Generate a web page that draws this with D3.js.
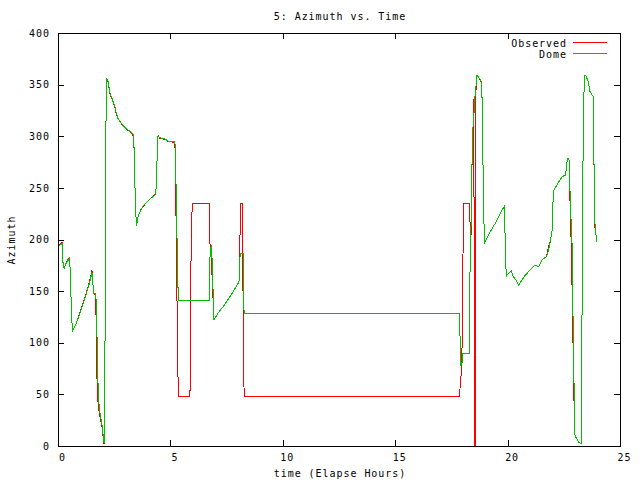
<!DOCTYPE html>
<html>
<head>
<meta charset="utf-8">
<script src="https://cdn.jsdelivr.net/npm/d3@7"></script>
<style>
  html, body { margin: 0; padding: 0; background: #fff; }
  text { font-family: "DejaVu Sans Mono", "Liberation Mono", monospace; font-size: 10px; letter-spacing: 0.95px; fill: #000; }
</style>
</head>
<body>
<svg id="chart" width="640" height="480"></svg>
<script>
// ---- data ----
const timeHours = [
  0, 0.18, 0.22, 0.27, 0.34, 0.42, 0.52, 0.55, 0.6, 0.64,
  0.8, 1.0, 1.2, 1.4, 1.51, 1.55, 1.6, 1.67, 1.7, 1.72,
  1.76, 1.8, 1.85, 1.9, 1.95, 2.0, 2.05, 2.09, 2.12, 2.15,
  2.23, 2.30, 2.38, 2.45, 2.53, 2.60, 2.67, 2.82, 2.97, 3.12,
  3.27, 3.36, 3.40, 3.44, 3.49, 3.56, 3.71, 3.86, 4.08, 4.35,
  4.38, 4.42, 4.45, 4.53, 4.75, 4.9, 5.2, 5.23, 5.29, 5.35,
  5.87, 5.89, 5.92, 5.97, 6.73, 6.74, 6.77, 6.83, 6.86, 6.94,
  7.11, 7.4, 7.7, 8.05, 8.08, 8.1, 8.12, 8.21, 8.23, 8.25,
  8.28, 8.3, 17.86, 17.88, 17.92, 17.97, 18.0, 18.04, 18.31, 18.33,
  18.37, 18.42, 18.46, 18.5, 18.52, 18.56, 18.58, 18.64, 18.85, 18.88,
  18.93, 18.97, 19.23, 19.45, 19.67, 19.87, 19.9, 19.95, 20.04, 20.16,
  20.24, 20.37, 20.49, 20.79, 21.01, 21.23, 21.38, 21.53, 21.73, 21.79,
  21.91, 22.0, 22.01, 22.06, 22.28, 22.43, 22.58, 22.66, 22.73, 22.75,
  22.8, 22.84, 22.87, 22.9, 22.93, 22.96, 23.0, 23.09, 23.17, 23.27,
  23.3, 23.35, 23.41, 23.49, 23.56, 23.61, 23.65, 23.75, 23.83, 23.84,
  23.88, 23.93, 23.97
];
const observed = [
  193, 197, 178, 172, 176, 180, 182, 164, 130, 111,
  118, 131, 144, 159, 170, 157, 148, 145, 119, 76,
  47, 38, 30, 24, 20, 10, 2, 91, 267, 356,
  352, 342, 337, 333, 328, 321, 317, 312, 308, 305.5,
  303, 300, 278, 234, 213, 222, 230, 234, 239, 244,
  258.6, 286.7, 300.6, 298, 297, 295, 294, 260, 148, 47.8,
  47.8, 94.6, 188, 235, 235, 212, 190, 180, 160, 122,
  128.5, 136.6, 146.2, 159, 173.7, 210, 234.4, 234.4, 150, 94.6,
  47.8, 47.8, 47.8, 55, 64, 89.8, 151, 235, 235, 215,
  201, 277, 300, 336, 0, 0, 340, 359.3, 352, 314,
  235, 197, 207.6, 215.7, 225.4, 232.7, 180.8, 164.6, 167.3, 169.9,
  164.6, 160.7, 155.9, 165.6, 170.5, 175.3, 173.7, 180.2, 183.4, 190,
  199.5, 210.8, 233.4, 248, 256, 260.8, 262.5, 278.3, 278.3, 263.4,
  215, 190, 150, 120, 60, 40, 9.7, 6.5, 3.2, 2.6,
  89.8, 269, 359.3, 358.3, 354.4, 351.1, 344, 340.2, 338.2, 278.6,
  212, 204.4, 197.9
];
const dome = [
  193, 196, 178, 172, 176, 179, 182, 164, 130, 111,
  118, 130, 143, 158, 168, 157, 148, 148, 140, 124,
  76, 47, 34, 28, 22, 12, 3, 91, 267, 356,
  353, 343, 338, 333.5, 328.7, 322, 317, 312.5, 308.6, 306,
  303.5, 302, 278.6, 234, 213, 222, 230, 234.4, 239, 243.7,
  258.6, 286.7, 300.6, 298.6, 297.3, 295.4, 295.4, 277, 206, 141.4,
  141.4, 141.4, 141.4, 141.4, 141.4, 164, 190, 194.7, 177, 122,
  128.5, 136.6, 146.2, 159, 165, 186.6, 186.6, 186.6, 186.6, 141.4,
  130, 128.5, 128.5, 109, 78.5, 80, 89.8, 89.8, 89.8, 175,
  210, 277, 309, 320, 330, 341.6, 345, 359.3, 352.8, 314,
  235, 197, 207.6, 215.7, 225.4, 232.7, 180.8, 164.6, 167.3, 169.9,
  164.6, 160.7, 155.9, 165.6, 170.5, 175.3, 173.7, 180.2, 183.4, 186.6,
  199.5, 210.8, 233.4, 248, 256, 260.8, 262.5, 278.3, 278.3, 263.4,
  232.7, 209.1, 194.6, 143, 89.8, 54.3, 9.7, 6.5, 3.2, 2.6,
  89.8, 269, 359.3, 358.3, 354.4, 351.1, 344, 340.2, 338.2, 278.6,
  217.3, 204.4, 197.9
];
const xTicks = [0, 5, 10, 15, 20, 25];
const yTicks = [0, 50, 100, 150, 200, 250, 300, 350, 400];
const seriesNames = ["Observed", "Dome"];
const seriesColors = ["#ff0000", "#00c000"];
const titleText = "5: Azimuth vs. Time";
const xLabel = "time (Elapse Hours)";
const yLabel = "Azimuth";

// ---- layout ----
const L = 58, R = 620, T = 33, B = 446;
const svg = d3.select("#chart");
const x = d3.scaleLinear().domain([0, 25]).range([L, R]);
const y = d3.scaleLinear().domain([0, 400]).range([B, T]);

// series lines
const rowsObs = timeHours.map((t, i) => [t, observed[i]]);
const rowsDome = timeHours.map((t, i) => [t, dome[i]]);
const line = d3.line().x(d => x(d[0])).y(d => y(d[1]));
[rowsObs, rowsDome].forEach((rows, i) => {
  svg.append("path").datum(rows)
    .attr("d", line)
    .attr("fill", "none")
    .attr("stroke", seriesColors[i])
    .attr("stroke-width", 1)
    .attr("stroke-linejoin", "miter")
    .attr("shape-rendering", "crispEdges");
});

// axes with inward ticks (gnuplot style, mirrored)
const tk = 6;
const gB = svg.append("g").attr("transform", `translate(0,${B})`)
  .call(d3.axisBottom(x).tickValues(xTicks).tickSize(-tk).tickSizeOuter(0).tickPadding(8));
const gT = svg.append("g").attr("transform", `translate(0,${T})`)
  .call(d3.axisTop(x).tickValues(xTicks).tickSize(-tk).tickSizeOuter(0).tickFormat(""));
const gL = svg.append("g").attr("transform", `translate(${L},0)`)
  .call(d3.axisLeft(y).tickValues(yTicks).tickSize(-tk).tickSizeOuter(0).tickPadding(8));
const gR = svg.append("g").attr("transform", `translate(${R},0)`)
  .call(d3.axisRight(y).tickValues(yTicks).tickSize(-tk).tickSizeOuter(0).tickFormat(""));
[gB, gT, gL, gR].forEach(g => {
  g.select(".domain").remove();
  g.selectAll("line").attr("stroke", "#000").attr("shape-rendering", "crispEdges");
  g.selectAll("text").attr("font-family", "DejaVu Sans Mono").attr("font-size", "10px").attr("fill", "#000");
});
gB.selectAll("text").attr("dx", 4);

// frame
svg.append("rect")
  .attr("x", L + 0.5).attr("y", T + 0.5)
  .attr("width", R - L).attr("height", B - T)
  .attr("fill", "none").attr("stroke", "#000").attr("stroke-width", 1)
  .attr("shape-rendering", "crispEdges");

// title & labels
svg.append("text").attr("x", 340).attr("y", 20).attr("text-anchor", "middle").text(titleText);
svg.append("text").attr("x", 340).attr("y", 477).attr("text-anchor", "middle").text(xLabel);
svg.append("text").attr("transform", "translate(15,240) rotate(-90)").attr("text-anchor", "middle").text(yLabel);

// legend
seriesNames.forEach((name, i) => {
  const ly = 42 + i * 11;
  svg.append("text").attr("x", 567).attr("y", ly + 4.5).attr("text-anchor", "end").text(name);
  svg.append("line").attr("x1", 573).attr("x2", 607).attr("y1", ly + 0.5).attr("y2", ly + 0.5)
    .attr("stroke", seriesColors[i]).attr("stroke-width", 1).attr("shape-rendering", "crispEdges");
});
</script>
</body>
</html>
